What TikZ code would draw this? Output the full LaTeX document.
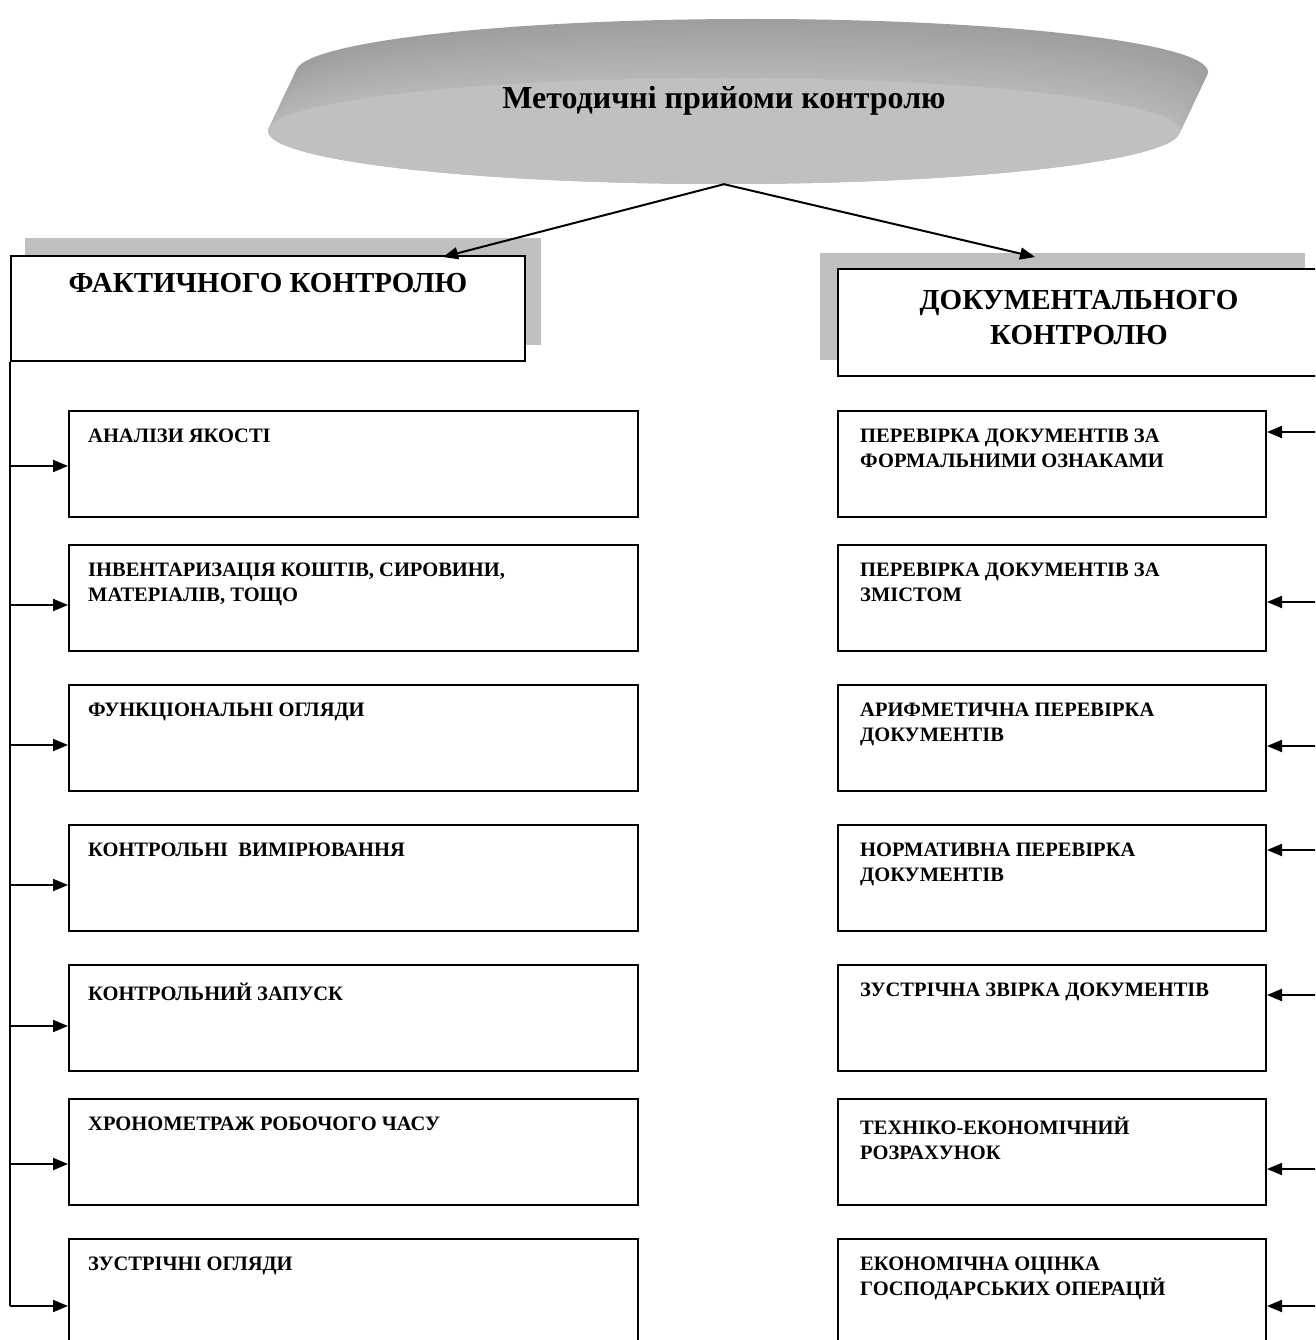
\documentclass[tikz,border=0pt]{standalone}
\usepackage{fontspec}
\setmainfont{Liberation Serif}
\usetikzlibrary{arrows.meta,shapes.geometric}
\definecolor{facecolor}{HTML}{C0C0C0}
\definecolor{shadowcolor}{HTML}{C0C0C0}

\begin{document}
\begin{tikzpicture}[x=1pt,y=-1pt,
    arr/.style={line width=2pt, -{Triangle[length=15pt,width=12pt]}},
    headbox/.style={draw, line width=2pt, fill=white, anchor=north west, inner sep=0pt},
    headtext/.style={font=\fontsize{29}{35}\selectfont\bfseries, align=center},
    itembox/.style={draw, line width=2pt, fill=white, anchor=north west, inner sep=0pt,
                    minimum height=106pt},
    itemtext/.style={font=\fontsize{20.5}{25}\selectfont\bfseries, align=left, anchor=north west, inner sep=0pt}]
  \clip (0,0) rectangle (1315,1340);
  \fill[white] (0,0) rectangle (1315,1340);

  % extruded ellipse
  \foreach \k in {0,...,30} {
    \pgfmathsetmacro\c{38-10*\k/30}
    \fill[black!\c] (724+28-28*\k/30, 131-59+59*\k/30) ellipse [x radius=456, y radius=53];
  }
  \node[ellipse, fill=facecolor, minimum width=912pt, minimum height=106pt, inner sep=0pt] (title) at (724,131) {};
  \node (titletext) at (724,101) {\fontsize{32}{36}\selectfont\bfseries Методичні прийоми контролю};

  % two headers
  \fill[shadowcolor] (25,238) rectangle (541,345);
  \node[headbox, minimum width=514pt, minimum height=105pt] (fact) at (10,255) {};
  \node[headtext] (facttext) at ([shift={(0,28)}]fact.north) {ФАКТИЧНОГО КОНТРОЛЮ};

  \fill[shadowcolor] (820,253) rectangle (1305,360);
  \node[headbox, minimum width=482pt, minimum height=107pt] (doc) at (837,268) {};
  \node[headtext] (doctext) at ([shift={(0,50)}]doc.north) {ДОКУМЕНТАЛЬНОГО\\КОНТРОЛЮ};

  \coordinate (fin) at (443,257);
  \coordinate (din) at (1035,257);
  \draw[arr] (title.south) -- (fin);
  \draw[arr] (title.south) -- (din);

  % left column
  \draw[line width=2pt] (fact.south west) -- (fact.south west |- 0,1306);
  \foreach \y/\a/\t [count=\i] in {410/466/{АНАЛІЗИ ЯКОСТІ},
      544/605/{ІНВЕНТАРИЗАЦІЯ КОШТІВ, СИРОВИНИ,\\МАТЕРІАЛІВ, ТОЩО},
      684/745/{ФУНКЦІОНАЛЬНІ ОГЛЯДИ},
      824/885/{КОНТРОЛЬНІ \ ВИМІРЮВАННЯ},
      964/1026/{КОНТРОЛЬНИЙ ЗАПУСК},
      1098/1164/{ХРОНОМЕТРАЖ РОБОЧОГО ЧАСУ},
      1238/1306/{ЗУСТРІЧНІ ОГЛЯДИ}} {
    \node[itembox, minimum width=569pt] (l\i) at (68,\y) {};
    \node[itemtext] (lt\i) at ([shift={(20,19)}]l\i.north west) {\t};
    \draw[arr] (fact.south west |- 0,\a) -- (l\i.west |- 0,\a);
  }

  % right column
  \draw[line width=2pt] (doc.south east) -- (doc.south east |- 0,1306);
  \foreach \y/\b/\t [count=\i] in {410/432/{ПЕРЕВІРКА ДОКУМЕНТІВ ЗА\\ФОРМАЛЬНИМИ ОЗНАКАМИ},
      544/602/{ПЕРЕВІРКА ДОКУМЕНТІВ ЗА\\ЗМІСТОМ},
      684/746/{АРИФМЕТИЧНА ПЕРЕВІРКА\\ДОКУМЕНТІВ},
      824/850/{НОРМАТИВНА ПЕРЕВІРКА\\ДОКУМЕНТІВ},
      964/995/{ЗУСТРІЧНА ЗВІРКА ДОКУМЕНТІВ},
      1098/1169/{ТЕХНІКО-ЕКОНОМІЧНИЙ\\РОЗРАХУНОК},
      1238/1306/{ЕКОНОМІЧНА ОЦІНКА\\ГОСПОДАРСЬКИХ ОПЕРАЦІЙ}} {
    \node[itembox, minimum width=428pt] (r\i) at (837,\y) {};
    \node[itemtext] (rt\i) at ([shift={(23,19)}]r\i.north west) {\t};
    \draw[arr] (doc.south east |- 0,\b) -- (r\i.east |- 0,\b);
  }
\end{tikzpicture}
\end{document}
